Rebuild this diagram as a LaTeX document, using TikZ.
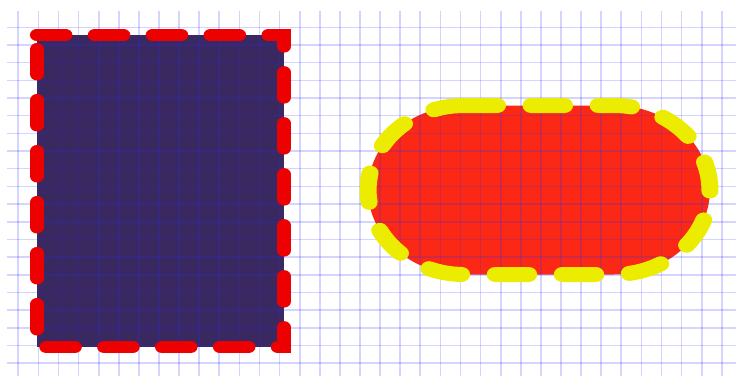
\documentclass[tikz,border=0pt]{standalone}
\definecolor{rectfill}{RGB}{58,40,96}
\definecolor{dashred}{RGB}{236,0,0}
\definecolor{ovalfill}{RGB}{252,40,22}
\definecolor{dashyellow}{RGB}{236,236,0}
\definecolor{gridblue}{RGB}{40,40,255}
\tikzset{
  truescale/.style={transform canvas={xscale=1.135}, x=0.881057pt, y=1pt},
  gridline/.style={gridblue, opacity=0.2, line width=1.5pt},
  rectborder/.style={draw=dashred, line width=12.5pt, line cap=round, dash pattern=on 25pt off 26pt},
  ovalborder/.style={draw=dashyellow, line width=15pt, line cap=round, dash pattern=on 29.5pt off 29.6pt},
}
\begin{document}
\begin{tikzpicture}[x=1pt,y=1pt]
\useasboundingbox (0,0) rectangle (736,376);
\begin{scope}[truescale]
  \coordinate (rtl) at (37,341);
  \coordinate (rtr) at (284,341);
  \coordinate (rbr) at (284,29);
  \coordinate (rbl) at (37,29);
  \coordinate (otl) at (464,270.5);
  \coordinate (otr) at (614,270.5);
  \coordinate (obl) at (464,101.5);
  % fills
  \fill[rectfill] (rtl) -- (rtr) -- (rbr) -- (rbl) -- cycle;
  \fill[ovalfill] (otl) -- (otr) arc[start angle=90,end angle=-90,radius=84.5pt]
       -- (obl) arc[start angle=270,end angle=90,radius=84.5pt] -- cycle;
  % grid
  \foreach \k in {0,...,35}
    \draw[gridline] ({(18.3+20.1*\k)},0) -- ({(18.3+20.1*\k)},365);
  \foreach \k in {0,...,19}
    \draw[gridline] (7,{376-27.3-17.68*\k}) -- (736,{376-27.3-17.68*\k});
  % borders
  \draw[rectborder] (rtl) -- (rtr) -- (rbr) -- (rbl) -- cycle;
  \draw[ovalborder] (otl) -- (otr) arc[start angle=90,end angle=-90,radius=84.5pt]
       -- (obl) arc[start angle=270,end angle=90,radius=84.5pt] -- cycle;
\end{scope}
\end{tikzpicture}
\end{document}
